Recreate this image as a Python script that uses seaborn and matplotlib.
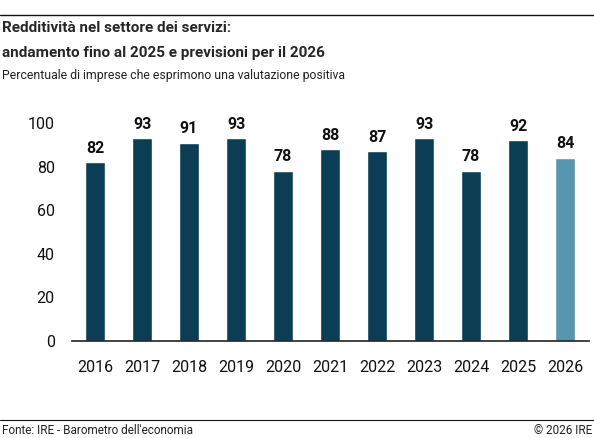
import matplotlib
matplotlib.use("Agg")
import matplotlib.pyplot as plt
import seaborn as sns
import pandas as pd

years = ["2016","2017","2018","2019","2020","2021","2022","2023","2024","2025","2026"]
values = [82, 93, 91, 93, 78, 88, 87, 93, 78, 92, 84]
dark = "#0b3d54"
light = "#5a95ae"
colors = [dark]*10 + [light]

sns.set_style("white")
plt.rcParams['font.family'] = ['Roboto', 'DejaVu Sans']

fig = plt.figure(figsize=(5.94, 4.38), dpi=100)
ax = fig.add_axes([71.5/594, 97/438, 517/594, 218/438])
df = pd.DataFrame({"year": years, "value": values})
sns.barplot(data=df, x="year", y="value", hue="year", palette=colors, legend=False,
            width=0.43, ax=ax, saturation=1)
ax.set_xlim(-0.5, 10.5)
ax.set_ylim(0, 100)
ax.set_yticks([0, 20, 40, 60, 80, 100])
for s in ["top", "right", "left"]:
    ax.spines[s].set_visible(False)
ax.spines["bottom"].set_color("#222222")
ax.spines["bottom"].set_linewidth(1.2)
ax.tick_params(axis="both", length=0, labelsize=11.5, colors="#111111")
ax.tick_params(axis="x", pad=14)
ax.tick_params(axis="y", pad=12)
ax.set_xlabel("")
ax.set_ylabel("")
for i, v in enumerate(values):
    ax.text(i, v + 3, str(v), ha="center", va="bottom", fontsize=11.5,
            fontweight="bold", color="#111111", clip_on=False)

fig.add_artist(plt.Line2D([0, 1], [1 - 15/438]*2, color="#111111", lw=1))
fig.add_artist(plt.Line2D([0, 1], [1 - 420/438]*2, color="#111111", lw=0.8))
fig.text(2/594, 1 - 28/438, "Redditività nel settore dei servizi:", fontsize=11,
         fontweight="bold", va="center", ha="left")
fig.text(2/594, 1 - 53/438, "andamento fino al 2025 e previsioni per il 2026", fontsize=11,
         fontweight="bold", va="center", ha="left")
fig.text(2/594, 1 - 75/438, "Percentuale di imprese che esprimono una valutazione positiva",
         fontsize=8.8, va="center", ha="left", color="#222222")
fig.text(2/594, 1 - 430/438, "Fonte: IRE - Barometro dell'economia", fontsize=8.5,
         va="center", ha="left", color="#222222")
fig.text(592/594, 1 - 430/438, "© 2026 IRE", fontsize=8.5, va="center", ha="right",
         color="#222222")
fig.savefig("out.png", dpi=100)
